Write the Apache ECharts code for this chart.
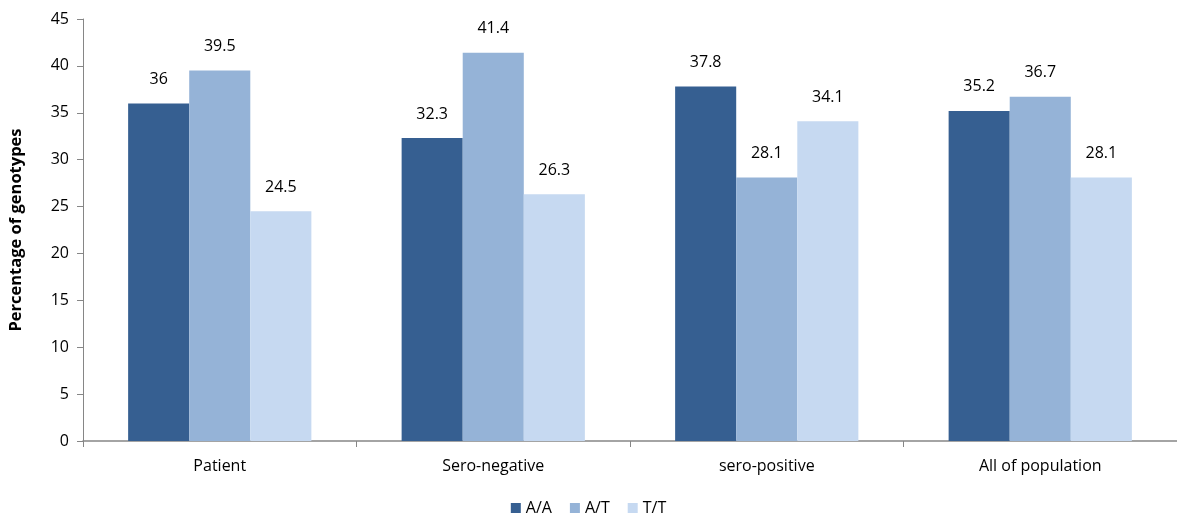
<!DOCTYPE html>
<html>
<head>
<meta charset="utf-8">
<script src="https://cdn.jsdelivr.net/npm/echarts@6/dist/echarts.min.js"></script>
<style>html,body{margin:0;padding:0;background:#fff}#c{width:1177px;height:518px}</style>
</head>
<body>
<div id="c"></div>
<script>
const categories = ['Patient', 'Sero-negative', 'sero-positive', 'All of population'];
const seriesNames = ['A/A', 'A/T', 'T/T'];
const valuesAA = [36, 32.3, 37.8, 35.2];
const valuesAT = [39.5, 41.4, 28.1, 36.7];
const valuesTT = [24.5, 26.3, 34.1, 28.1];
const yTicks = [0, 5, 10, 15, 20, 25, 30, 35, 40, 45];
const colors = ['#365F91', '#95B3D7', '#C6D9F1'];
const font = '"Open Sans", sans-serif';

const chart = echarts.init(document.getElementById('c'));
const mk = (name, data, i) => ({
  name, type: 'bar', data,
  barGap: '0%', barCategoryGap: '33%',
  itemStyle: { color: colors[i] },
  label: { show: true, position: 'top', distance: 16, color: '#000', fontSize: 16, fontFamily: font },
  animation: false
});
chart.setOption({
  animation: false,
  grid: { left: 83, right: 0, top: 19, bottom: 77, containLabel: false, outerBoundsMode: 'none' },
  legend: {
    data: seriesNames, bottom: -3, left: 'center', itemWidth: 10, itemHeight: 10, itemGap: 18,
    icon: 'rect', textStyle: { fontSize: 16, fontFamily: font, color: '#000' }
  },
  xAxis: {
    type: 'category', data: categories,
    axisLine: { lineStyle: { color: '#868686', width: 1.5 } },
    axisTick: { show: true, length: 6, lineStyle: { color: '#868686' } },
    axisLabel: { fontSize: 16, fontFamily: font, color: '#000', margin: 17 }
  },
  yAxis: {
    type: 'value', min: yTicks[0], max: yTicks[yTicks.length - 1], interval: 5,
    name: 'Percentage of genotypes', nameLocation: 'middle', nameGap: 58, nameRotate: 90,
    nameTextStyle: { fontSize: 16.5, fontWeight: 'bold', fontFamily: font, color: '#000' },
    axisLine: { show: true, lineStyle: { color: '#868686' } },
    axisTick: { show: true, length: 6, lineStyle: { color: '#868686' } },
    axisLabel: { fontSize: 16, fontFamily: font, color: '#000', margin: 14 },
    splitLine: { show: false }
  },
  series: [mk(seriesNames[0], valuesAA, 0), mk(seriesNames[1], valuesAT, 1), mk(seriesNames[2], valuesTT, 2)]
});
</script>
</body>
</html>
